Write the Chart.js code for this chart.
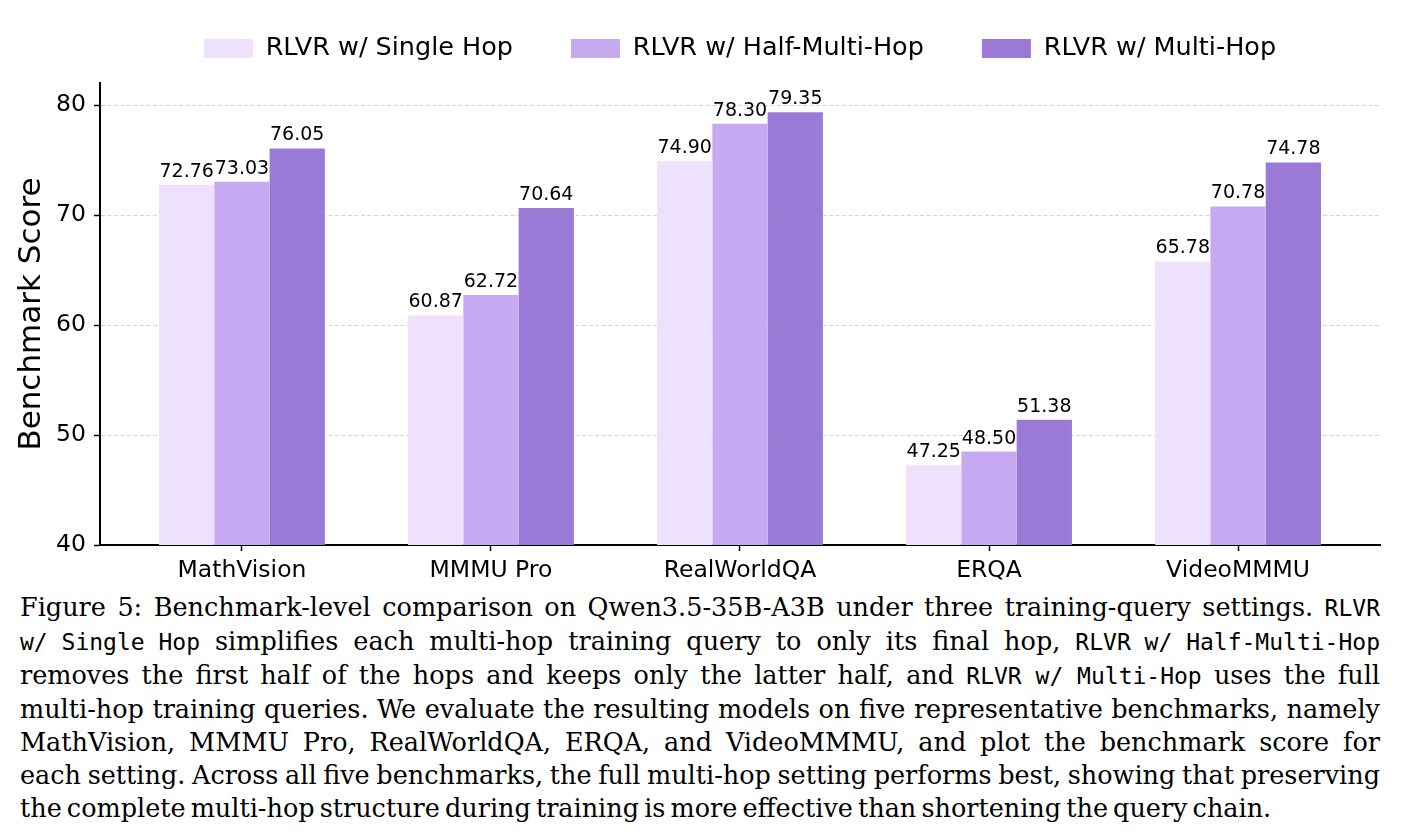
<!DOCTYPE html>
<html><head><meta charset="utf-8">
<script src="https://cdn.jsdelivr.net/npm/chart.js@4.4.1/dist/chart.umd.min.js"></script>
<style>
html,body{margin:0;padding:0;background:#fff;}
#wrap{position:relative;width:1402px;height:838px;overflow:hidden;background:#fff;}
#cv{position:absolute;left:0;top:0;}
#cap{position:absolute;left:20px;top:591px;width:1360px;font-family:"DejaVu Serif",serif;font-size:25.5px;line-height:33px;color:#000;word-spacing:-3px;}
.l{text-align:justify;text-align-last:justify;}
.last{text-align:left;text-align-last:left;}
code{font-family:"DejaVu Sans Mono",monospace;font-size:23px;word-spacing:0;display:inline-block;text-align:left;text-align-last:left;}
</style></head>
<body>
<div id="wrap">
<canvas id="cv" width="1402" height="590"></canvas>
<div id="cap">
<div class="l">Figure 5: Benchmark-level comparison on Qwen3.5-35B-A3B under three training-query settings. <code>RLVR</code></div>
<div class="l"><code>w/ Single Hop</code> simplifies each multi-hop training query to only its final hop, <code>RLVR w/ Half-Multi-Hop</code></div>
<div class="l">removes the first half of the hops and keeps only the latter half, and <code>RLVR w/ Multi-Hop</code> uses the full</div>
<div class="l">multi-hop training queries. We evaluate the resulting models on five representative benchmarks, namely</div>
<div class="l">MathVision, MMMU Pro, RealWorldQA, ERQA, and VideoMMMU, and plot the benchmark score for</div>
<div class="l">each setting. Across all five benchmarks, the full multi-hop setting performs best, showing that preserving</div>
<div class="last">the complete multi-hop structure during training is more effective than shortening the query chain.</div>
</div>
</div>
<script>
const categories = ['MathVision', 'MMMU Pro', 'RealWorldQA', 'ERQA', 'VideoMMMU'];
const seriesNames = ['RLVR w/ Single Hop', 'RLVR w/ Half-Multi-Hop', 'RLVR w/ Multi-Hop'];
const singleHop = [72.76, 60.87, 74.90, 47.25, 65.78];
const halfMultiHop = [73.03, 62.72, 78.30, 48.50, 70.78];
const multiHop = [76.05, 70.64, 79.35, 51.38, 74.78];
const yTicks = [40, 50, 60, 70, 80];
const seriesColors = ['#EEE1FD', '#C6A9F1', '#9B79D7'];

Chart.defaults.font.family = '"DejaVu Sans", sans-serif';
Chart.defaults.color = '#000';

const seriesValues = [singleHop, halfMultiHop, multiHop];
const datasets = seriesValues.map((vals, k) => ({
  label: seriesNames[k],
  data: vals.map((v, i) => ({x: i, y: v})),
  backgroundColor: seriesColors[k],
  borderWidth: 0
}));

const valueLabels = {
  id: 'valueLabels',
  afterDatasetsDraw(chart) {
    const ctx = chart.ctx;
    ctx.save();
    ctx.font = '19px "DejaVu Sans"';
    ctx.fillStyle = '#000';
    ctx.textAlign = 'center';
    ctx.textBaseline = 'alphabetic';
    chart.data.datasets.forEach((ds, di) => {
      const meta = chart.getDatasetMeta(di);
      meta.data.forEach((bar, i) => {
        ctx.fillText(ds.data[i].y.toFixed(2), bar.x, bar.y - 8);
      });
    });
    ctx.restore();
  }
};

new Chart(document.getElementById('cv'), {
  type: 'bar',
  data: { datasets },
  plugins: [valueLabels],
  options: {
    responsive: false,
    animation: false,
    devicePixelRatio: 1,
    categoryPercentage: 0.666,
    barPercentage: 1.0,
    layout: { padding: { top: -22.25, right: 22, left: 0, bottom: 0 } },
    plugins: {
      legend: {
        position: 'top',
        fullSize: false,
        align: 'center',
        labels: { boxWidth: 49, boxHeight: 19, padding: 58, font: { size: 25.5 }, color: '#000' }
      },
      title: { display: true, text: '', weight: 0, fullSize: false, padding: { top: 11.75, bottom: 0 }, font: { size: 1, lineHeight: 0 } },
      tooltip: { enabled: false }
    },
    scales: {
      x: {
        type: 'linear',
        min: -0.57,
        max: 4.57,
        offset: false,
        afterBuildTicks: s => { s.ticks = categories.map((_, i) => ({ value: i })); },
        afterFit: s => { s.height = 45; },
        ticks: {
          stepSize: 1, includeBounds: false, autoSkip: false, maxRotation: 0,
          padding: 6, font: { size: 23.5 }, color: '#000',
          callback: v => categories[v]
        },
        grid: { offset: false, drawOnChartArea: false, drawTicks: true, tickLength: 6, tickColor: '#000', tickWidth: 1.5 },
        border: { color: '#000', width: 2 }
      },
      y: {
        min: 40,
        max: 82,
        afterBuildTicks: s => { s.ticks = yTicks.map(v => ({ value: v })); },
        afterFit: s => { s.width = 100; },
        ticks: { stepSize: 10, includeBounds: false, padding: 8, font: { size: 23.5 }, color: '#000' },
        grid: { color: 'rgba(195,195,195,0.7)', lineWidth: 1, tickColor: '#000', tickLength: 6, tickWidth: 1.5, tickBorderDash: [] },
        border: { color: '#000', width: 2, dash: [4, 2.5] },
        title: { display: true, text: 'Benchmark Score', font: { size: 31 }, color: '#000', padding: { top: 13, bottom: 0 } }
      }
    }
  }
});
</script>
</body></html>
